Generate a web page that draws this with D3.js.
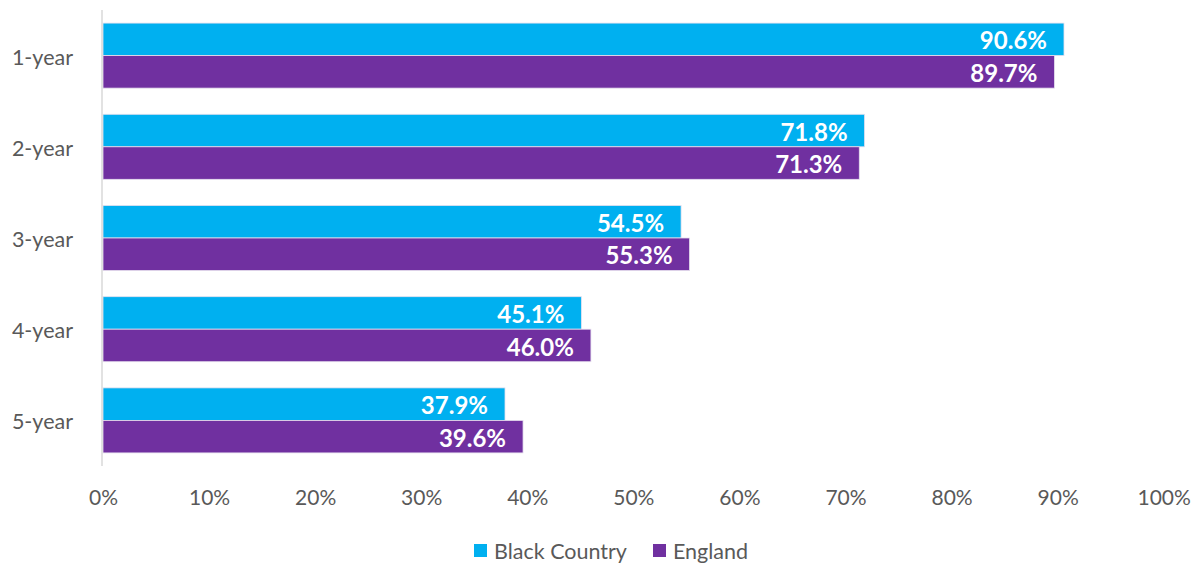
<!DOCTYPE html>
<html>
<head>
<meta charset="utf-8">
<script src="https://cdn.jsdelivr.net/npm/d3@7"></script>
<style>
  body { margin: 0; background: #fff; }
  svg { display: block; font-family: Lato, "Open Sans", sans-serif; }
</style>
</head>
<body>
<svg id="chart" width="1203" height="563"></svg>
<script>
const categories = ["1-year", "2-year", "3-year", "4-year", "5-year"];
const seriesNames = ["Black Country", "England"];
const blackCountry = [90.6, 71.8, 54.5, 45.1, 37.9];
const england = [89.7, 71.3, 55.3, 46.0, 39.6];
const xTicks = [0, 10, 20, 30, 40, 50, 60, 70, 80, 90, 100];

const colors = { "Black Country": "#00b0f0", "England": "#7030a0" };

const svg = d3.select("#chart");

const x = d3.scaleLinear().domain([0, 100]).range([103, 1163.7]);

const y = d3.scaleBand()
    .domain(categories)
    .range([10, 466])
    .paddingInner(0.287)
    .paddingOuter(0.1435);

const ySub = d3.scaleBand()
    .domain(seriesNames)
    .range([0, y.bandwidth()]);

const rows = categories.map((c, i) => ({
    cat: c,
    values: [
        { name: "Black Country", v: blackCountry[i] },
        { name: "England", v: england[i] }
    ]
}));

// value axis labels (no gridlines)
svg.append("g")
    .attr("transform", "translate(0,505)")
    .call(d3.axisBottom(x).tickValues(xTicks).tickFormat(d => d + "%").tickSize(0).tickPadding(0))
    .call(g => g.select(".domain").remove())
    .selectAll("text")
    .attr("dy", 0)
    .attr("font-size", 21)
    .attr("font-family", "Lato, sans-serif")
    .attr("fill", "#595959");

// bars
const groups = svg.append("g")
    .selectAll("g")
    .data(rows)
    .enter().append("g")
    .attr("transform", d => `translate(0,${y(d.cat)})`);

groups.selectAll("rect")
    .data(d => d.values)
    .enter().append("rect")
    .attr("x", x(0))
    .attr("y", d => ySub(d.name))
    .attr("width", d => x(d.v) - x(0))
    .attr("height", ySub.bandwidth())
    .attr("fill", d => colors[d.name])
    .attr("stroke", "#e6e0ee")
    .attr("stroke-width", 0.8);

groups.selectAll("text")
    .data(d => d.values)
    .enter().append("text")
    .attr("x", d => x(d.v) - 17)
    .attr("y", d => ySub(d.name) + ySub.bandwidth() / 2)
    .attr("dy", "0.42em")
    .attr("text-anchor", "end")
    .attr("font-size", 24)
    .attr("font-weight", "bold")
    .attr("fill", "#fff")
    .text(d => d.v.toFixed(1) + "%");

// category axis
svg.append("g")
    .attr("transform", `translate(${x(0) - 1},0)`)
    .call(d3.axisLeft(y).tickSize(0).tickPadding(29))
    .call(g => g.select(".domain").attr("stroke", "#d9d9d9").attr("stroke-width", 1.5).attr("d", "M0,10V466"))
    .selectAll("text")
    .attr("dy", "0.42em")
    .attr("font-size", 21.5)
    .attr("font-family", "Lato, sans-serif")
    .attr("fill", "#595959");

// legend
const legendItems = [
    { name: "Black Country", x: 474 },
    { name: "England", x: 653 }
];
const legend = svg.append("g")
    .selectAll("g")
    .data(legendItems)
    .enter().append("g")
    .attr("transform", d => `translate(${d.x},544)`);

legend.append("rect")
    .attr("width", 13)
    .attr("height", 13)
    .attr("fill", d => colors[d.name]);

legend.append("text")
    .attr("x", 20)
    .attr("y", 7)
    .attr("dy", "0.36em")
    .attr("font-size", 21.5)
    .attr("fill", "#595959")
    .text(d => d.name);
</script>
</body>
</html>
